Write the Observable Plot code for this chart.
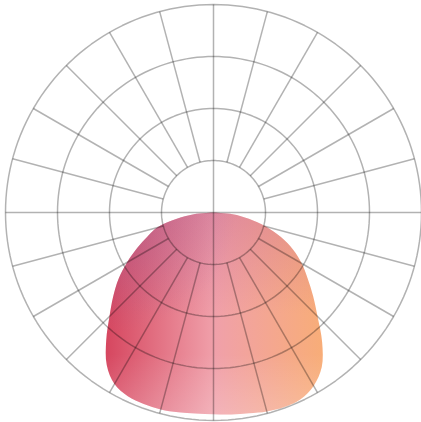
<!DOCTYPE html>
<html>
<head>
<meta charset="utf-8">
<script src="https://cdn.jsdelivr.net/npm/d3@7"></script>
<script src="https://cdn.jsdelivr.net/npm/@observablehq/plot@0.6"></script>
<style>
  html, body { margin: 0; padding: 0; background: #fff; }
  #chart svg { display: block; }
</style>
</head>
<body>
<div id="chart"></div>
<script>
// Polar grid settings (intensity rings)
const rings = [100, 200, 300, 400];
const spokeAngles = [15, 30, 45, 60, 75, 105, 120, 135, 150, 165, 195, 210, 225, 240, 255, 285, 300, 315, 330, 345];
const axisAngles = [0, 90];

// Light distribution curve: angle from nadir (deg, negative = left) and intensity
const angleDeg = [-90, -85, -80, -75, -70, -65, -60, -55, -50, -45, -40, -35, -30, -25, -20, -15, -10, -5,
                  0, 5, 10, 15, 20, 25, 30, 35, 40, 45, 50, 55, 60, 65, 70, 75, 80, 85, 90];
const intensity = [0, 38, 73, 112, 135, 162, 192, 223, 252, 283, 321, 358, 381, 390, 392, 392, 390, 388,
                   388, 390, 392, 396, 398, 396, 385, 363, 325, 283, 250, 221, 196, 169, 138, 104, 69, 37, 0];

const rad = d => d * Math.PI / 180;
const maxR = d3.max(rings);
const inner = d3.min(rings);

const blob = angleDeg.map((a, i) => ({
  x: intensity[i] * Math.sin(rad(a)),
  y: -intensity[i] * Math.cos(rad(a))
}));

const ringPts = rings.flatMap(r => d3.range(0, 361, 2).map(a => ({
  ring: r, x: r * Math.sin(rad(a)), y: r * Math.cos(rad(a))
})));

const spokes = spokeAngles.map(a => ({
  x1: inner * Math.sin(rad(a)), y1: inner * Math.cos(rad(a)),
  x2: maxR * Math.sin(rad(a)), y2: maxR * Math.cos(rad(a))
}));
const axes = axisAngles.map(a => ({
  x1: -maxR * Math.sin(rad(a)), y1: -maxR * Math.cos(rad(a)),
  x2: maxR * Math.sin(rad(a)), y2: maxR * Math.cos(rad(a))
}));

const defs = () => {
  const d = d3.create("svg:defs");
  const g1 = d.append("linearGradient").attr("id", "gradH").attr("x1", 0).attr("y1", 0).attr("x2", 1).attr("y2", 0);
  g1.append("stop").attr("offset", "0%").attr("stop-color", "#d6465f");
  g1.append("stop").attr("offset", "50%").attr("stop-color", "#f0a0aa");
  g1.append("stop").attr("offset", "100%").attr("stop-color", "#f8ad78");
  const g2 = d.append("linearGradient").attr("id", "gradV").attr("x1", 0).attr("y1", 0).attr("x2", 0).attr("y2", 1);
  g2.append("stop").attr("offset", "0%").attr("stop-color", "#be5a8c").attr("stop-opacity", 0.3);
  g2.append("stop").attr("offset", "50%").attr("stop-color", "#be5a8c").attr("stop-opacity", 0);
  g2.append("stop").attr("offset", "70%").attr("stop-color", "#ffffff").attr("stop-opacity", 0);
  g2.append("stop").attr("offset", "100%").attr("stop-color", "#ffffff").attr("stop-opacity", 0.2);
  const g3 = d.append("radialGradient").attr("id", "gradTL").attr("cx", 0).attr("cy", 0).attr("r", 0.6);
  g3.append("stop").attr("offset", "0%").attr("stop-color", "#8c5a96").attr("stop-opacity", 0.35);
  g3.append("stop").attr("offset", "100%").attr("stop-color", "#8c5a96").attr("stop-opacity", 0);
  return d.node();
};

const chart = Plot.plot({
  width: 421,
  height: 422,
  marginLeft: 5,
  marginRight: 0,
  marginTop: 4,
  marginBottom: 2,
  x: { domain: [-maxR, maxR], axis: null },
  y: { domain: [-maxR, maxR], axis: null },
  marks: [
    defs,
    Plot.line(blob, { x: "x", y: "y", curve: "catmull-rom-closed", fill: "url(#gradH)", stroke: "none" }),
    Plot.line(blob, { x: "x", y: "y", curve: "catmull-rom-closed", fill: "url(#gradV)", stroke: "none" }),
    Plot.line(blob, { x: "x", y: "y", curve: "catmull-rom-closed", fill: "url(#gradTL)", stroke: "none" }),
    Plot.line(ringPts, { x: "x", y: "y", z: "ring", stroke: "#000", strokeOpacity: 0.3, strokeWidth: 1.5 }),
    Plot.link(spokes, { x1: "x1", y1: "y1", x2: "x2", y2: "y2", stroke: "#000", strokeOpacity: 0.3, strokeWidth: 1.5 }),
    Plot.link(axes, { x1: "x1", y1: "y1", x2: "x2", y2: "y2", stroke: "#000", strokeOpacity: 0.3, strokeWidth: 1.5 })
  ]
});
document.getElementById("chart").appendChild(chart);
</script>
</body>
</html>
